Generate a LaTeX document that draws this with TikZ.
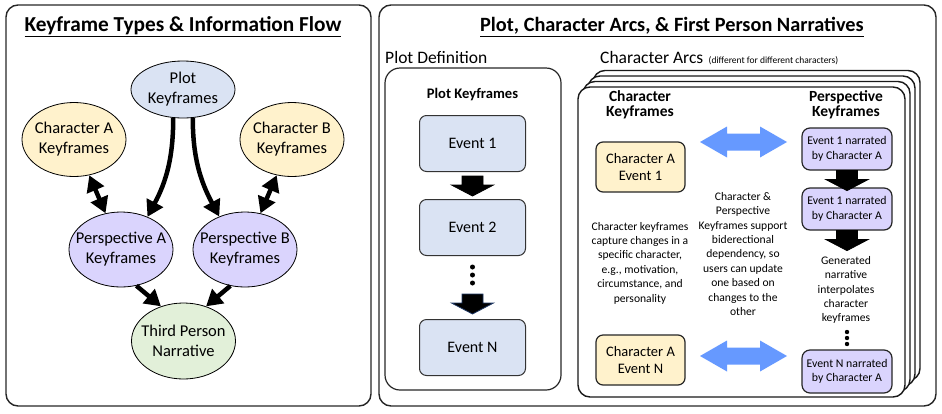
\documentclass[tikz,border=0pt]{standalone}
\usepackage{fontspec}
\setmainfont{Carlito}
\usetikzlibrary{shapes.geometric,arrows.meta,calc,positioning}

\definecolor{plotblue}{HTML}{DAE3F3}
\definecolor{charyellow}{HTML}{FFF2CC}
\definecolor{persviolet}{HTML}{DAD4FD}
\definecolor{thirdgreen}{HTML}{E2F0D9}
\definecolor{biblue}{HTML}{6699FF}
\definecolor{navyedge}{HTML}{1F3864}

\newcommand{\fs}[2]{\fontsize{#1}{#2}\selectfont}

\tikzset{
  panel/.style={draw=black!85, line width=1.4pt, rounded corners=12pt},
  card/.style={draw=black!90, fill=white, line width=1.4pt, rounded corners=12pt},
  kf/.style={ellipse, draw, line width=0.8pt, inner xsep=-12pt, inner ysep=0pt,
    minimum width=104pt, align=center, font=\fs{16.5}{20}},
  flow/.style={line width=4.5pt, -{Triangle[length=16pt,width=18pt]}},
  twoway/.style={line width=4.5pt, {Triangle[length=16pt,width=18pt]}-{Triangle[length=16pt,width=18pt]}},
  eventbox/.style={draw=black!80, fill=plotblue, rounded corners=7pt, line width=1pt,
    minimum width=106pt, minimum height=56pt, font=\fs{16}{19}},
  charbox/.style={draw=black!85, fill=charyellow, rounded corners=7pt, line width=1.2pt,
    minimum width=89pt, minimum height=50pt, align=center, font=\fs{14.5}{17.5}},
  persbox/.style={draw=black!85, fill=persviolet, rounded corners=8pt, line width=1.2pt,
    minimum width=90pt, minimum height=42pt, align=center, inner sep=1pt, font=\fs{11.8}{14.5}},
  note/.style={align=center, inner sep=0pt, font=\fs{11.6}{14.4}},
  heading/.style={inner sep=0pt, font=\bfseries\fs{20.5}{24}},
  label/.style={inner sep=0pt, font=\fs{17.5}{20}},
  pics/blockdown/.style={code={
    \filldraw[line width=0.8pt] (-10.5,0) -- (10.5,0) -- (10.5,9) -- (21,9) -- (0,20)
      -- (-21,9) -- (-10.5,9) -- cycle;
  }},
  pics/bidir/.style={code={
    \fill[biblue] (-43.5,0) -- (-16.5,-15.5) -- (-16.5,-8.5) -- (16.5,-8.5) -- (16.5,-15.5)
      -- (43.5,0) -- (16.5,15.5) -- (16.5,8.5) -- (-16.5,8.5) -- (-16.5,15.5) -- cycle;
  }},
}

\begin{document}
\begin{tikzpicture}[x=1pt,y=-1pt]
  \useasboundingbox (0,0) rectangle (942,413);

  % Left panel: keyframe types
  \draw[panel] (6,5) rectangle (371,406);
  \node[heading, font=\bfseries\fs{21.3}{24}] (ltitle) at (183,27) {\underline{Keyframe Types \& Information Flow}};

  \node[kf, fill=plotblue, minimum height=57pt] (plot) at (183,89.5) {Plot\\Keyframes};
  \node[kf, fill=charyellow, minimum height=74pt] (chA) at (74,139.5) {Character A\\Keyframes};
  \node[kf, fill=charyellow, minimum height=74pt] (chB) at (292,139.5) {Character B\\Keyframes};
  \node[kf, fill=persviolet, minimum height=75pt] (pA) at (121,249.5) {Perspective A\\Keyframes};
  \node[kf, fill=persviolet, minimum height=75pt] (pB) at (245,249.5) {Perspective B\\Keyframes};
  \node[kf, fill=thirdgreen, minimum height=76pt] (third) at (183.5,341) {Third Person\\Narrative};

  \draw[flow] (plot.-109) to[out=-90,in=62] (pA.51);
  \draw[flow] (plot.-71) to[out=-90,in=118] (pB.128);
  \draw[twoway] (chA) -- (pA);
  \draw[twoway] (chB) -- (pB);
  \draw[flow] (pA.-67) -- (third.123);
  \draw[flow] (pB.-112) -- (third.57);

  % Right panel
  \draw[panel] (379,5) rectangle (936,406);
  \node[heading, font=\bfseries\fs{20.3}{24}] (rtitle) at (672,27) {\underline{Plot, Character Arcs, \& First Person Narratives}};

  % plot definition
  \node[label, anchor=west] (pdef) at (385,57) {Plot Definition};
  \draw[draw=black!85, line width=1.2pt, rounded corners=15pt] (385,68) rectangle (561,390);
  \node[inner sep=0pt, font=\bfseries\fs{14.6}{17}] (pkf) at (472.5,95) {Plot Keyframes};
  \node[eventbox] (e1) at (472.5,143.5) {Event 1};
  \node[eventbox] (e2) at (472.5,227.5) {Event 2};
  \node[eventbox] (eN) at (472.5,347.5) {Event N};
  \pic at ($(e1.south)+(0,4)$) {blockdown};
  \pic[draw=navyedge] at ($(eN.north)+(0,-25)$) {blockdown};
  \foreach \y in {267,275,283}
    \fill (472.5,\y) circle (2.5);

  % character arcs
  \node[label, anchor=west] (arcs) at (600,57) {Character Arcs};
  \node[inner sep=0pt, anchor=base west, font=\fs{9.5}{11}] (arcsnote)
    at ([xshift=5pt]arcs.base east) {(different for different characters)};
  \foreach \k in {3,2,1}
    \draw[card] (578+5*\k,87-5.5*\k) rectangle (905+5*\k,397-5.5*\k);
  \draw[card] (578,87) rectangle (905,397);

  \node[align=center, inner sep=0pt, font=\bfseries\fs{15.5}{14.5}] (chhead) at (640,105) {Character\\Keyframes};
  \node[align=center, inner sep=0pt, font=\bfseries\fs{15.5}{14.5}] (pkhead) at (846,105) {Perspective\\Keyframes};

  \node[charbox] (ch1) at (640.5,167) {Character A\\Event 1};
  \node[charbox] (chN) at (640.5,360) {Character A\\Event N};
  \node[persbox] (pk1) at (847,149) {Event 1 narrated\\by Character A};
  \node[persbox] (pk2) at (847,209) {Event 1 narrated\\by Character A};
  \node[persbox, minimum height=43pt] (pkN) at (847,371.5) {Event N narrated\\by Character A};

  \coordinate (bi1) at (743.5,142);
  \coordinate (biN) at (743.5,356);
  \pic at (bi1) {bidir};
  \pic at (biN) {bidir};
  \pic at (pk1.south) {blockdown};
  \pic at (pk2.south) {blockdown};
  \foreach \y in {332,338,344}
    \fill (847,\y) circle (2.2);

  \node[note] (chnote) at (640,263) {Character keyframes\\capture changes in a\\specific character,\\e.g., motivation,\\circumstance, and\\personality};
  \node[note] (binote) at (743,254) {Character \&\\Perspective\\Keyframes support\\biderectional\\dependency, so\\users can update\\one based on\\changes to the\\other};
  \node[note] (gennote) at (846,290) {Generated\\narrative\\interpolates\\character\\keyframes};
\end{tikzpicture}
\end{document}
